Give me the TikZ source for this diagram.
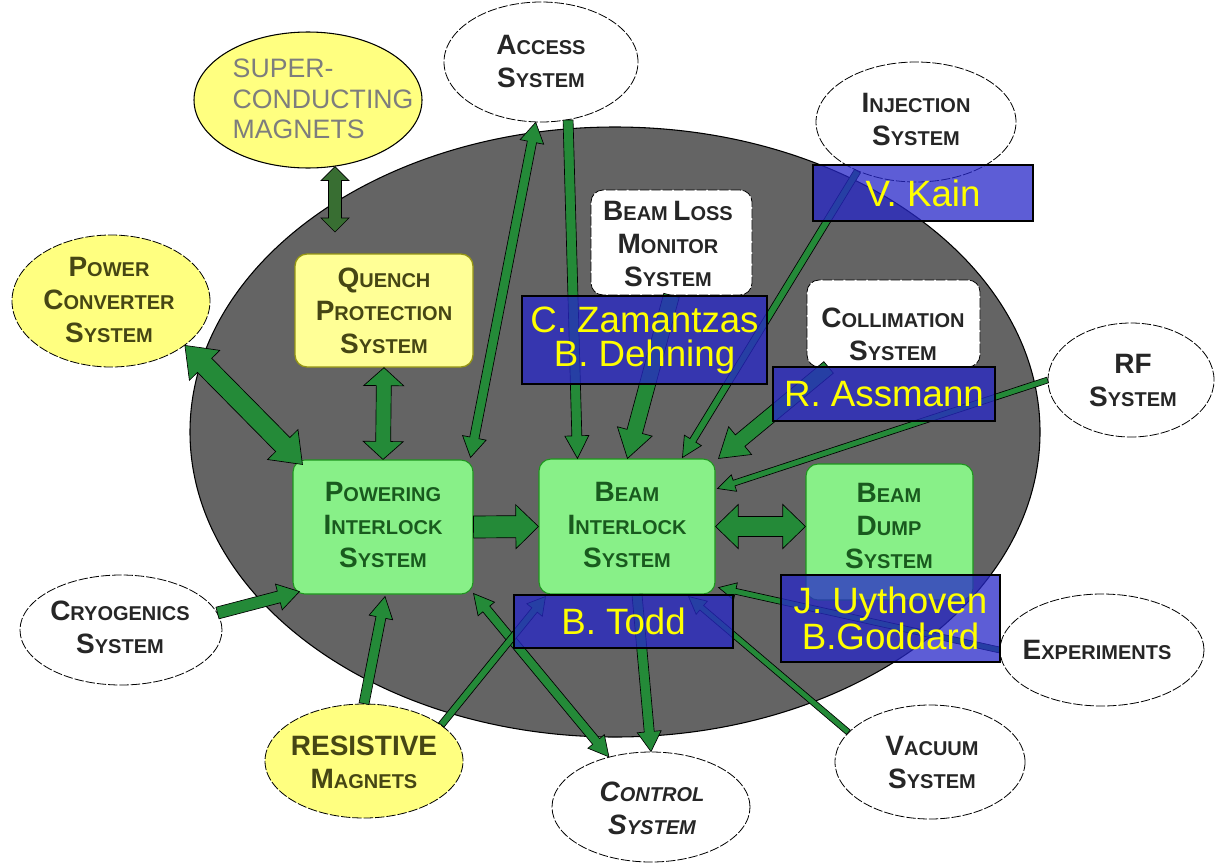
\documentclass[tikz,border=0pt]{standalone}
\usepackage{fontspec}
\setmainfont{Liberation Sans}
\usetikzlibrary{calc,shapes.geometric}
\definecolor{bggray}{RGB}{100,100,100}
\definecolor{arrgreen}{RGB}{36,138,56}
\definecolor{arrdark}{RGB}{56,110,50}
\definecolor{boxgreen}{RGB}{136,240,136}
\definecolor{boxgreenline}{RGB}{30,150,30}
\definecolor{yel}{RGB}{255,255,128}
\definecolor{yelq}{RGB}{255,255,150}
\definecolor{yelline}{RGB}{150,150,20}
\definecolor{olivetext}{RGB}{70,70,20}
\definecolor{dgreen}{RGB}{25,90,30}
\definecolor{nameblue}{RGB}{39,39,201}
\definecolor{nameyel}{RGB}{255,255,0}
\definecolor{scgray}{RGB}{125,125,125}
\newcommand\Bg[1]{{\fontsize{21}{24.75}\selectfont #1}}
% single-headed fat arrow: style, start, end, shaft half width, head half width, head length
\newcommand\sarrow[6]{%
  \coordinate (h) at ($(#3)!#6!(#2)$);
  \filldraw[#1] ($(#2)!#4!90:(#3)$) -- ($(h)!#4!90:(#3)$) -- ($(h)!#5!90:(#3)$) -- (#3)
    -- ($(h)!#5!-90:(#3)$) -- ($(h)!#4!-90:(#3)$) -- ($(#2)!#4!-90:(#3)$) -- cycle;}
% double-headed fat arrow
\newcommand\darrow[6]{%
  \coordinate (ha) at ($(#2)!#6!(#3)$);
  \coordinate (hb) at ($(#3)!#6!(#2)$);
  \filldraw[#1] (#2) -- ($(ha)!#5!90:(#3)$) -- ($(ha)!#4!90:(#3)$) -- ($(hb)!#4!90:(#3)$)
    -- ($(hb)!#5!90:(#3)$) -- (#3) -- ($(hb)!#5!-90:(#3)$) -- ($(hb)!#4!-90:(#3)$)
    -- ($(ha)!#4!-90:(#3)$) -- ($(ha)!#5!-90:(#3)$) -- cycle;}
\begin{document}
\begin{tikzpicture}[x=0.75pt,y=-0.75pt,
  sysfont/.style={font=\fontsize{15}{24.75}\selectfont\bfseries, align=center},
  ell/.style={ellipse, draw=black, line width=0.6pt, dash pattern=on 7pt off 1.5pt, fill=white, inner sep=0pt},
  rbox/.style={rectangle, rounded corners=9pt, inner sep=0pt},
  gbox/.style={rbox, fill=boxgreen, draw=boxgreenline, line width=0.8pt},
  wbox/.style={rbox, fill=white, draw=black, line width=0.6pt, dash pattern=on 7pt off 1.5pt},
  namebox/.style={rectangle, fill=nameblue, fill opacity=0.75, text opacity=1, draw=black, line width=1pt, text=nameyel, font=\fontsize{27.5}{25.5}\selectfont, align=center, inner sep=0pt},
  arr/.style={fill=arrgreen, draw=black, line width=0.5pt},
  arrd/.style={fill=arrdark, draw=black, line width=0.5pt},
]
\useasboundingbox (0,0) rectangle (1216,864);
\fill[white] (0,0) rectangle (1216,864);
% big gray domain
\draw[fill=bggray, draw=black, line width=0.8pt] (615,432) ellipse (425 and 305);

% ellipse nodes
\node[ell, fill=yel, solid, line width=0.8pt, minimum width=171pt, minimum height=102pt] (sc) at (308,100) {};
\node[ell, minimum width=145.5pt, minimum height=90pt] (acc) at (541,62) {};
\node[ell, minimum width=150pt, minimum height=90pt] (inj) at (916,122) {};
\node[ell, minimum width=124.5pt, minimum height=85.5pt] (rf) at (1131,380) {};
\node[ell, fill=yel, minimum width=148.5pt, minimum height=99pt] (pcs) at (111,301) {};
\node[ell, minimum width=151.5pt, minimum height=82.5pt] (cryo) at (121,630) {};
\node[ell, fill=yel, minimum width=148.5pt, minimum height=85.5pt] (res) at (364,761) {};
\node[ell, minimum width=148.5pt, minimum height=82.5pt] (ctl) at (651,807) {};
\node[ell, minimum width=142.5pt, minimum height=85.5pt] (vac) at (930,762) {};
\node[ell, minimum width=153pt, minimum height=84pt] (exp) at (1102,650) {};

% box nodes
\node[rbox, fill=yelq, draw=yelline, line width=1pt, minimum width=133.5pt, minimum height=84.75pt] (qps) at (384,310.5) {};
\node[gbox, minimum width=135pt, minimum height=100.5pt] (pis) at (383,527) {};
\node[gbox, minimum width=132pt, minimum height=101.25pt] (bis) at (627,526.5) {};
\node[gbox, minimum width=125.25pt, minimum height=102pt] (bds) at (889.5,532) {};
\node[wbox, minimum width=120.75pt, minimum height=78.75pt] (blm) at (671.5,242.5) {};
\node[wbox, minimum width=129.75pt, minimum height=65.25pt] (col) at (893.5,323.5) {};

% texts
\node[font=\fontsize{20}{23}\selectfont, text=scgray, align=left, anchor=west] (sct) at (228,99) {SUPER-\\CONDUCTING\\MAGNETS};
\node[sysfont, text=black!85] (acct) at (541,62) {\Bg{A}CCESS\\\Bg{S}YSTEM};
\node[sysfont, text=black!85] (injt) at (916,120) {\Bg{I}NJECTION\\\Bg{S}YSTEM};
\node[sysfont, text=black!85] (rft) at (1133,380) {\Bg{RF}\\\Bg{S}YSTEM};
\node[sysfont, text=olivetext] (pcst) at (109,300) {\Bg{P}OWER\\\Bg{C}ONVERTER\\\Bg{S}YSTEM};
\node[sysfont, text=black!85] (cryot) at (120,627) {\Bg{C}RYOGENICS\\\Bg{S}YSTEM};
\node[sysfont, text=olivetext] (rest) at (364,762) {\Bg{RESISTIVE}\\\Bg{M}AGNETS};
\node[sysfont, text=black!85, font=\fontsize{15}{24.75}\selectfont\bfseries\itshape] (ctlt) at (652,808) {\Bg{C}ONTROL\\\Bg{S}YSTEM};
\node[sysfont, text=black!85] (vact) at (932,762) {\Bg{V}ACUUM\\\Bg{S}YSTEM};
\node[sysfont, text=black!85] (expt) at (1097,650) {\Bg{E}XPERIMENTS};
\node[sysfont, text=olivetext] (qpst) at (384,311) {\Bg{Q}UENCH\\\Bg{P}ROTECTION\\\Bg{S}YSTEM};
\node[sysfont, text=dgreen] (pist) at (383,525) {\Bg{P}OWERING\\\Bg{I}NTERLOCK\\\Bg{S}YSTEM};
\node[sysfont, text=dgreen] (bist) at (627,525) {\Bg{B}EAM\\\Bg{I}NTERLOCK\\\Bg{S}YSTEM};
\node[sysfont, text=dgreen] (bdst) at (889,526) {\Bg{B}EAM\\\Bg{D}UMP\\\Bg{S}YSTEM};
\node[sysfont, text=black!85] (blmt) at (668,244) {\Bg{B}EAM \Bg{L}OSS\\\Bg{M}ONITOR\\\Bg{S}YSTEM};
\node[sysfont, text=black!85] (colt) at (893,334) {\Bg{C}OLLIMATION\\\Bg{S}YSTEM};

% connector end points
\coordinate (scA) at ($(sc.south)+(27,-2)$);
\coordinate (scB) at (335,232);
\coordinate (pisTL) at ($(pis.north west)+(10,5)$);
\coordinate (bdsW) at (bis.east -| bds.west);
\coordinate (pisTR) at ($(pis.north east)+(-3,-2)$);
\coordinate (bisT1) at ($(bis.north west)+(39,0)$);
\coordinate (bisT2) at ($(bis.north west)+(89,0)$);
\coordinate (bisT3) at ($(bis.north west)+(144,-1)$);
\coordinate (colS) at ($(col.south west)+(22,0)$);
\coordinate (bisT4) at ($(bis.north east)+(3,0)$);
\coordinate (bisR1) at ($(bis.east)+(2,-38)$);
\coordinate (bisR2) at ($(bis.south east)+(3,-7)$);
\coordinate (bisB1) at ($(bis.south east)+(-27,2)$);
\coordinate (bisB2) at ($(bis.south)+(10,0)$);
\coordinate (pisBR) at ($(pis.south east)+(0,-1)$);
\coordinate (pisB) at ($(pis.south)+(2,2)$);
\coordinate (bisB3) at ($(bis.south west)+(7,2)$);
\coordinate (pisBL) at ($(pis.south west)+(7,-3)$);

% connectors
\darrow{arrd}{scA}{scB}{4.9pt}{10.5pt}{10.5pt}
\darrow{arr}{pcs.-31}{pisTL}{7.5pt}{16pt}{21pt}
\darrow{arr}{qps.south}{pis.north}{5.6pt}{15pt}{13.5pt}
\sarrow{arr}{pis.east}{bis.west}{8.25pt}{16.5pt}{17pt}
\darrow{arr}{bis.east}{bdsW}{7.5pt}{16.5pt}{17pt}
\darrow{arr}{acc.-95}{pisTR}{3.5pt}{9pt}{15pt}
\sarrow{arr}{acc.-65}{bisT1}{3.75pt}{9pt}{17pt}
\sarrow{arr}{blm.south}{bisT2}{6pt}{13.5pt}{21pt}
\sarrow{arr}{inj.-140}{bisT3}{2.6pt}{7.5pt}{15pt}
\sarrow{arr}{colS}{bisT4}{5.6pt}{13.5pt}{21pt}
\sarrow{arr}{rf.west}{bisR1}{2.2pt}{6.5pt}{13pt}
\sarrow{arr}{exp.west}{bisR2}{2.2pt}{6.5pt}{13pt}
\sarrow{arr}{vac.160}{bisB1}{2.2pt}{6.5pt}{13pt}
\sarrow{arr}{bisB2}{ctl.north}{3.75pt}{9pt}{15pt}
\darrow{arr}{pisBR}{ctl.130}{3.4pt}{8pt}{15pt}
\sarrow{arr}{res.north}{pisB}{3.75pt}{9pt}{16pt}
\sarrow{arr}{res.25}{bisB3}{2.6pt}{7.5pt}{13pt}
\sarrow{arr}{cryo.10}{pisBL}{4.5pt}{10pt}{16pt}

% name boxes
\node[namebox, minimum width=165pt, minimum height=42pt] (kain) at (923,193) {V. Kain};
\node[namebox, minimum width=183.75pt, minimum height=66pt] (zam) at (644.5,340) {C. Zamantzas\\B. Dehning};
\node[namebox, minimum width=166.5pt, minimum height=40.5pt] (ass) at (884,394) {R. Assmann};
\node[namebox, minimum width=164.25pt, minimum height=39.75pt] (todd) at (623.5,621.5) {B. Todd};
\node[namebox, minimum width=164.25pt, minimum height=65.25pt] (uyt) at (890.5,618.5) {J. Uythoven\\B.Goddard};
\end{tikzpicture}
\end{document}
